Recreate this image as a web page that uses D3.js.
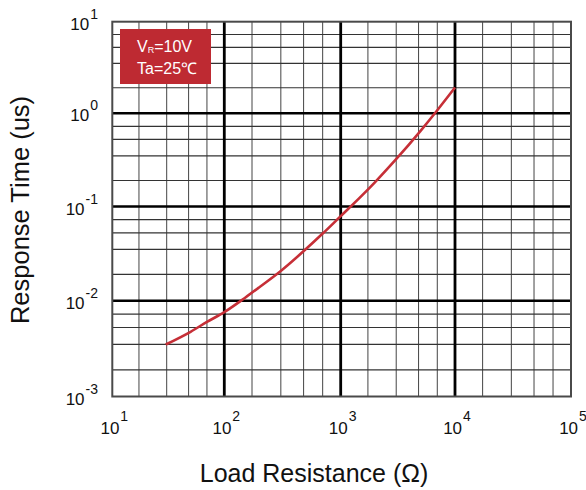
<!DOCTYPE html>
<html>
<head>
<meta charset="utf-8">
<script src="https://cdn.jsdelivr.net/npm/d3@7"></script>
<style>
  html, body { margin: 0; padding: 0; background: #fff; }
  svg { display: block; }
  text { font-family: Arial, "Liberation Sans", sans-serif; }
</style>
</head>
<body>
<svg id="chart" width="586" height="490"></svg>
<script>
// ---- Data ----
const resistance = [30, 50, 70, 100, 150, 200, 300, 500, 700, 1000, 1500, 2000, 3000, 5000, 7000, 10000];
const responseTime = [0.00349, 0.00474, 0.0060, 0.0076, 0.0107, 0.0139, 0.0203, 0.0351, 0.0516, 0.079, 0.1276, 0.183, 0.314, 0.649, 1.08, 1.91];

const xMajorTicks = [10, 100, 1000, 10000, 100000];
const xTickExponents = ["1", "2", "3", "4", "5"];
const yMajorTicks = [0.001, 0.01, 0.1, 1, 10];
const yTickExponents = ["-3", "-2", "-1", "0", "1"];
const xMinorMultipliers = [1.73, 3.06, 4.8, 7];
const yMinorMultipliers = [1.9, 3.5, 5.25, 7.25];

const legendLines = ["V", "R", "=10V", "Ta=25℃"];
const xTitle = "Load Resistance (Ω)";
const yTitle = "Response Time (us)";

// ---- Layout ----
const xRange = [112.3, 224.3, 340.7, 455, 571];
const yRange = [396.5, 300.7, 206.5, 113.3, 21.7];
const pL = xRange[0], pR = xRange[4], pT = yRange[4], pB = yRange[0];
const svg = d3.select("#chart");

const x = d3.scaleLog().domain(xMajorTicks).range(xRange);
const y = d3.scaleLog().domain(yMajorTicks).range(yRange);

// minor grid values
const xMinor = [];
xMajorTicks.slice(0, -1).forEach(d => xMinorMultipliers.forEach(m => xMinor.push(d * m)));
const yMinor = [];
yMajorTicks.slice(0, -1).forEach(d => yMinorMultipliers.forEach(m => yMinor.push(d * m)));

const grid = svg.append("g");
grid.selectAll("line.xmin").data(xMinor).enter().append("line")
  .attr("x1", d => x(d)).attr("x2", d => x(d))
  .attr("y1", pT).attr("y2", pB)
  .attr("stroke", "#444").attr("stroke-width", 1);
grid.selectAll("line.ymin").data(yMinor).enter().append("line")
  .attr("y1", d => y(d)).attr("y2", d => y(d))
  .attr("x1", pL).attr("x2", pR)
  .attr("stroke", "#333").attr("stroke-width", 1.2);

// major grid
grid.selectAll("line.xmaj").data(xMajorTicks.slice(1, -1)).enter().append("line")
  .attr("x1", d => x(d)).attr("x2", d => x(d))
  .attr("y1", pT).attr("y2", pB)
  .attr("stroke", "#000").attr("stroke-width", 2.8);
grid.selectAll("line.ymaj").data(yMajorTicks.slice(1, -1)).enter().append("line")
  .attr("y1", d => y(d)).attr("y2", d => y(d))
  .attr("x1", pL).attr("x2", pR)
  .attr("stroke", "#000").attr("stroke-width", 2.6);

// border
svg.append("rect")
  .attr("x", pL).attr("y", pT)
  .attr("width", pR - pL).attr("height", pB - pT)
  .attr("fill", "none").attr("stroke", "#4a4a4a").attr("stroke-width", 2);

// curve
const pts = resistance.map((r, i) => [r, responseTime[i]]);
const line = d3.line()
  .x(d => x(d[0])).y(d => y(d[1]))
  .curve(d3.curveMonotoneX);
svg.append("path")
  .attr("d", line(pts))
  .attr("fill", "none")
  .attr("stroke", "#C62F37")
  .attr("stroke-width", 2.6);

// legend box
const lg = svg.append("g");
lg.append("rect")
  .attr("x", 120).attr("y", 29).attr("width", 91).attr("height", 55)
  .attr("fill", "#BE2A32");
const t1 = lg.append("text").attr("x", 137).attr("y", 52)
  .attr("fill", "#fff").attr("font-size", 16);
t1.append("tspan").text(legendLines[0]);
t1.append("tspan").attr("font-size", 9).attr("dy", 1).text(legendLines[1]);
t1.append("tspan").attr("dy", -1).text(legendLines[2]);
lg.append("text").attr("x", 137).attr("y", 74)
  .attr("fill", "#fff").attr("font-size", 16).text(legendLines[3]);

// y tick labels
yMajorTicks.forEach((v, i) => {
  const t = svg.append("text")
    .attr("x", 98).attr("y", y(v) + 8)
    .attr("text-anchor", "end")
    .attr("fill", "#111").attr("font-size", 17);
  t.append("tspan").text("10");
  t.append("tspan").attr("font-size", 14).attr("dy", -11).attr("dx", 1).text(yTickExponents[i]);
});

// x tick labels
xMajorTicks.forEach((v, i) => {
  const t = svg.append("text")
    .attr("x", x(v) + 2).attr("y", 434)
    .attr("text-anchor", "middle")
    .attr("fill", "#111").attr("font-size", 17);
  t.append("tspan").text("10");
  t.append("tspan").attr("font-size", 14).attr("dy", -13).attr("dx", 1).text(xTickExponents[i]);
});

// axis titles
svg.append("text")
  .attr("x", 314).attr("y", 482)
  .attr("text-anchor", "middle")
  .attr("fill", "#111").attr("font-size", 25)
  .text(xTitle);
svg.append("text")
  .attr("transform", "translate(29,210) rotate(-90)")
  .attr("text-anchor", "middle")
  .attr("fill", "#111").attr("font-size", 25.5)
  .text(yTitle);
</script>
</body>
</html>
